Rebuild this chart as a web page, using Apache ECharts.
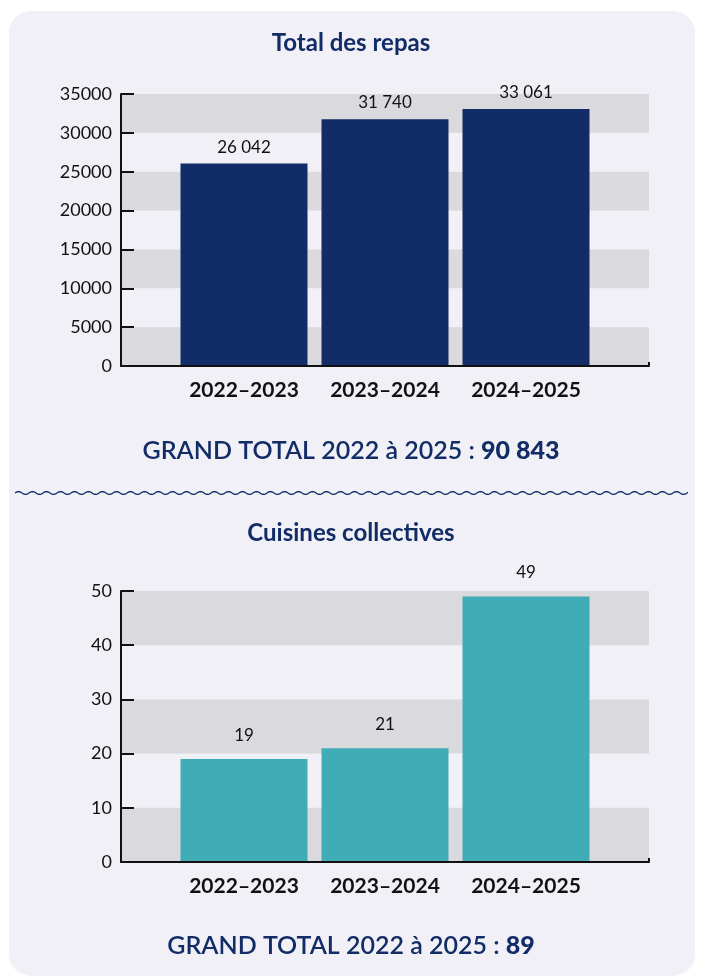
<!DOCTYPE html>
<html>
<head>
<meta charset="utf-8">
<script src="https://cdn.jsdelivr.net/npm/echarts@6/dist/echarts.min.js"></script>
<style>
  html, body { margin: 0; padding: 0; background: #fff; }
  #chart { width: 702px; height: 978px; }
</style>
</head>
<body>
<div id="chart"></div>
<script>
// data
const years = ["2022–2023", "2023–2024", "2024–2025"];
const repasValues = [26042, 31740, 33061];
const cuisinesValues = [19, 21, 49];
const repasTotal = "90 843";
const cuisinesTotal = "89";

const NAVY = "#112c66";
const TEAL = "#40acb6";
const BAND = "#dad9de";
const FONT = "Lato, 'Open Sans', sans-serif";

const fmtThousands = (v) =>
  String(v).replace(/\B(?=(\d{3})+(?!\d))/g, "\u202f");

// wavy separator, just decoration
const wavePoints = [];
for (let x = 15; x <= 688; x += 1) {
  wavePoints.push([x, 493 - 1.3 * Math.sin(((x - 15) / 14) * 2 * Math.PI)]);
}

const chart = echarts.init(document.getElementById("chart"));

const frameX = (gridIndex) => ({
  gridIndex,
  type: "value",
  min: 0,
  max: 1,
  interval: 1,
  z: 5,
  axisLine: { show: true, lineStyle: { color: "#111", width: 2 } },
  axisTick: { show: true, inside: true, length: 4, lineStyle: { color: "#111", width: 2 } },
  axisLabel: { show: false },
  splitLine: { show: false },
});

const frameY = (gridIndex, max, interval) => ({
  gridIndex,
  type: "value",
  min: 0,
  max,
  interval,
  axisLine: { show: true, lineStyle: { color: "#111", width: 2 } },
  axisTick: { show: true, inside: true, length: 13, lineStyle: { color: "#111", width: 2 } },
  axisLabel: {
    color: "#111",
    fontSize: 18,
    fontFamily: FONT,
    margin: 9,
    formatter: (v) => String(v),
  },
  splitLine: { show: false },
  splitArea: { show: true, areaStyle: { color: [BAND, "rgba(0,0,0,0)"] } },
});

const catX = (gridIndex) => ({
  gridIndex,
  type: "category",
  data: years,
  axisLine: { show: false },
  axisTick: { show: false },
  axisLabel: {
    interval: 0,
    hideOverlap: false,
    color: "#111",
    fontSize: 21,
    fontWeight: "bold",
    fontFamily: FONT,
    margin: 14,
  },
});

const hiddenY = (gridIndex, max) => ({
  gridIndex,
  type: "value",
  min: 0,
  max,
  show: false,
  splitLine: { show: false },
});

const totalTitle = (top, value) => ({
  left: "center",
  top,
  text: `{a|GRAND TOTAL 2022 à 2025 : }{b|${value}}`,
  textStyle: {
    rich: {
      a: { color: NAVY, fontSize: 25, fontWeight: 600, fontFamily: FONT },
      b: { color: NAVY, fontSize: 25, fontWeight: 900, fontFamily: FONT },
    },
  },
});

const option = {
  backgroundColor: "#fff",
  animation: false,
  graphic: [
    {
      type: "rect",
      z: -10,
      shape: { x: 9, y: 11, width: 686, height: 965, r: 22 },
      style: { fill: "#f1f0f6" },
    },
    {
      type: "polyline",
      z: 10,
      shape: { points: wavePoints },
      style: { fill: null, stroke: NAVY, lineWidth: 1.3 },
    },
  ],
  title: [
    {
      left: "center",
      top: 26,
      text: "Total des repas",
      textStyle: { color: NAVY, fontSize: 24, fontWeight: "bold", fontFamily: FONT },
    },
    totalTitle(433, repasTotal),
    {
      left: "center",
      top: 516,
      text: "Cuisines collectives",
      textStyle: { color: NAVY, fontSize: 24, fontWeight: "bold", fontFamily: FONT },
    },
    totalTitle(928, cuisinesTotal),
  ],
  grid: [
    { left: 121, top: 94, width: 528, height: 272 },
    { left: 173.5, top: 94, width: 423, height: 272 },
    { left: 121, top: 591, width: 528, height: 271 },
    { left: 173.5, top: 591, width: 423, height: 271 },
  ],
  xAxis: [frameX(0), catX(1), frameX(2), catX(3)],
  yAxis: [
    frameY(0, 35000, 5000),
    hiddenY(1, 35000),
    frameY(2, 50, 10),
    hiddenY(3, 50),
  ],
  series: [
    {
      name: "Total des repas",
      type: "bar",
      xAxisIndex: 1,
      yAxisIndex: 1,
      data: repasValues,
      barWidth: 127,
      itemStyle: { color: NAVY },
      label: {
        show: true,
        position: "top",
        distance: 8,
        color: "#111",
        fontSize: 17,
        fontFamily: FONT,
        formatter: (p) => fmtThousands(p.value),
      },
    },
    {
      name: "Cuisines collectives",
      type: "bar",
      xAxisIndex: 3,
      yAxisIndex: 3,
      data: cuisinesValues,
      barWidth: 127,
      itemStyle: { color: TEAL },
      label: {
        show: true,
        position: "top",
        distance: 15,
        color: "#111",
        fontSize: 17,
        fontFamily: FONT,
      },
    },
  ],
};

chart.setOption(option);
</script>
</body>
</html>
